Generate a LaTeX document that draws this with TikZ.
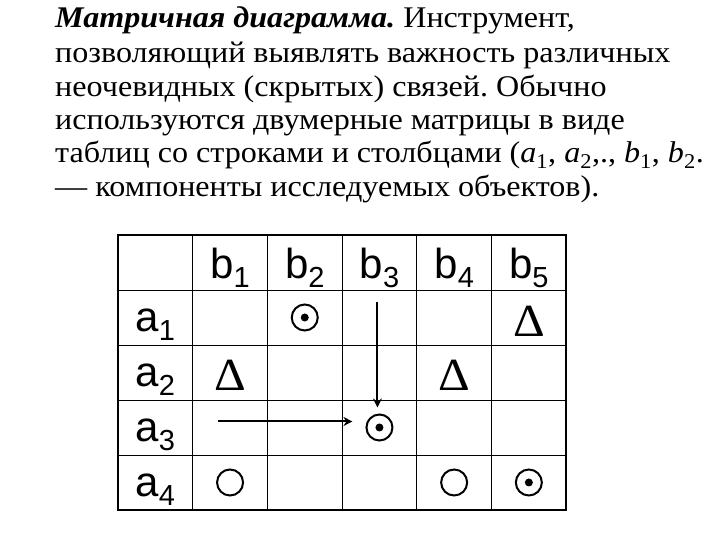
\documentclass[tikz,border=0pt]{standalone}
\usepackage{fontspec}
\setmainfont{Liberation Serif}[FakeStretch=1.07]
\newfontfamily\arialfont{Liberation Sans}
\usetikzlibrary{arrows.meta,positioning}
\newcommand\sub[1]{\raisebox{-8.5pt}{\fontsize{29}{29}\selectfont #1}}
\frenchspacing

\begin{document}
\begin{tikzpicture}[x=1pt,y=1pt,
node distance=0pt,
    C/.style = {rectangle, draw, line width=0.8pt,% cells of the matrix
                minimum width=74.7pt, minimum height=55pt,
                outer sep=0pt, inner sep=0pt},
    T/.style = {anchor=base west, inner sep=0pt,
                font=\fontsize{30}{34}\selectfont},
    L/.style = {anchor=base, inner sep=0pt,
                font=\arialfont\fontsize{42}{44}\selectfont},
    O/.style = {circle, draw, line width=2pt, minimum size=26pt, inner sep=0pt},
    D/.style = {O, path picture={\fill (path picture bounding box.center) circle (4pt);}},
    V/.style = {inner sep=0pt, font=\fontsize{46}{46}\selectfont},
    A/.style = {-{Stealth[length=9pt,width=9pt]}, line width=2pt},
                        ]
\useasboundingbox (0,0) rectangle (720,540);
% text above the matrix
\node[T] (line1) at (55,512) {\textbf{\textit{Матричная диаграмма.}} Инструмент,};
\node[T] (line2) at (55,477) {позволяющий выявлять важность различных};
\node[T] (line3) at (55,443) {неочевидных (скрытых) связей. Обычно};
\node[T] (line4) at (55,410) {используются двумерные матрицы в виде};
\node[T] (line5) at (55,377) {таблиц со строками и столбцами (\textit{a}\textsubscript{1}, \textit{a}\textsubscript{2},., \textit{b}\textsubscript{1}, \textit{b}\textsubscript{2}.};
\node[T] (line6) at (55,343) {— компоненты исследуемых объектов).};
% matrix 5 x 6
\foreach \r in {0,...,4}
  \foreach \c in {0,...,5}
    \node[C] (m-\r-\c) at ({155.35+74.7*\c},{277.5-55*\r}) {};
\draw[line width=2pt] (m-0-0.north west) rectangle (m-4-5.south east);
\foreach \c in {1,...,5}% <-- column heads
    \node[L] (b\c) at ([yshift=11pt] m-0-\c.south) {b\sub{\c}};
\foreach \r in {1,...,4}% <-- row heads
    \node[L] (a\r) at ([yshift=13pt] m-\r-0.south) {a\sub{\r}};
% marks
\node[D] (s12) at (m-1-2) {};
\node[V] (t15) at ([yshift=-4pt] m-1-5.center) {Δ};
\node[V] (t21) at ([yshift=-3pt] m-2-1.center) {Δ};
\node[V] (t24) at ([yshift=-3pt] m-2-4.center) {Δ};
\node[D] (s33) at (m-3-3) {};
\node[O] (o41) at (m-4-1) {};
\node[O] (o44) at (m-4-4) {};
\node[D] (s45) at (m-4-5) {};
% arrows
\coordinate (v) at ([xshift=-2pt,yshift=-12pt] m-1-3.north);
\coordinate (h) at ([xshift=-12pt,yshift=6pt] m-3-1.center);
\draw[A, shorten >=6pt] (v) -- (v |- s33.north);
\draw[A, shorten >=13pt] (h) -- (h -| s33.west);
\end{tikzpicture}
\end{document}
